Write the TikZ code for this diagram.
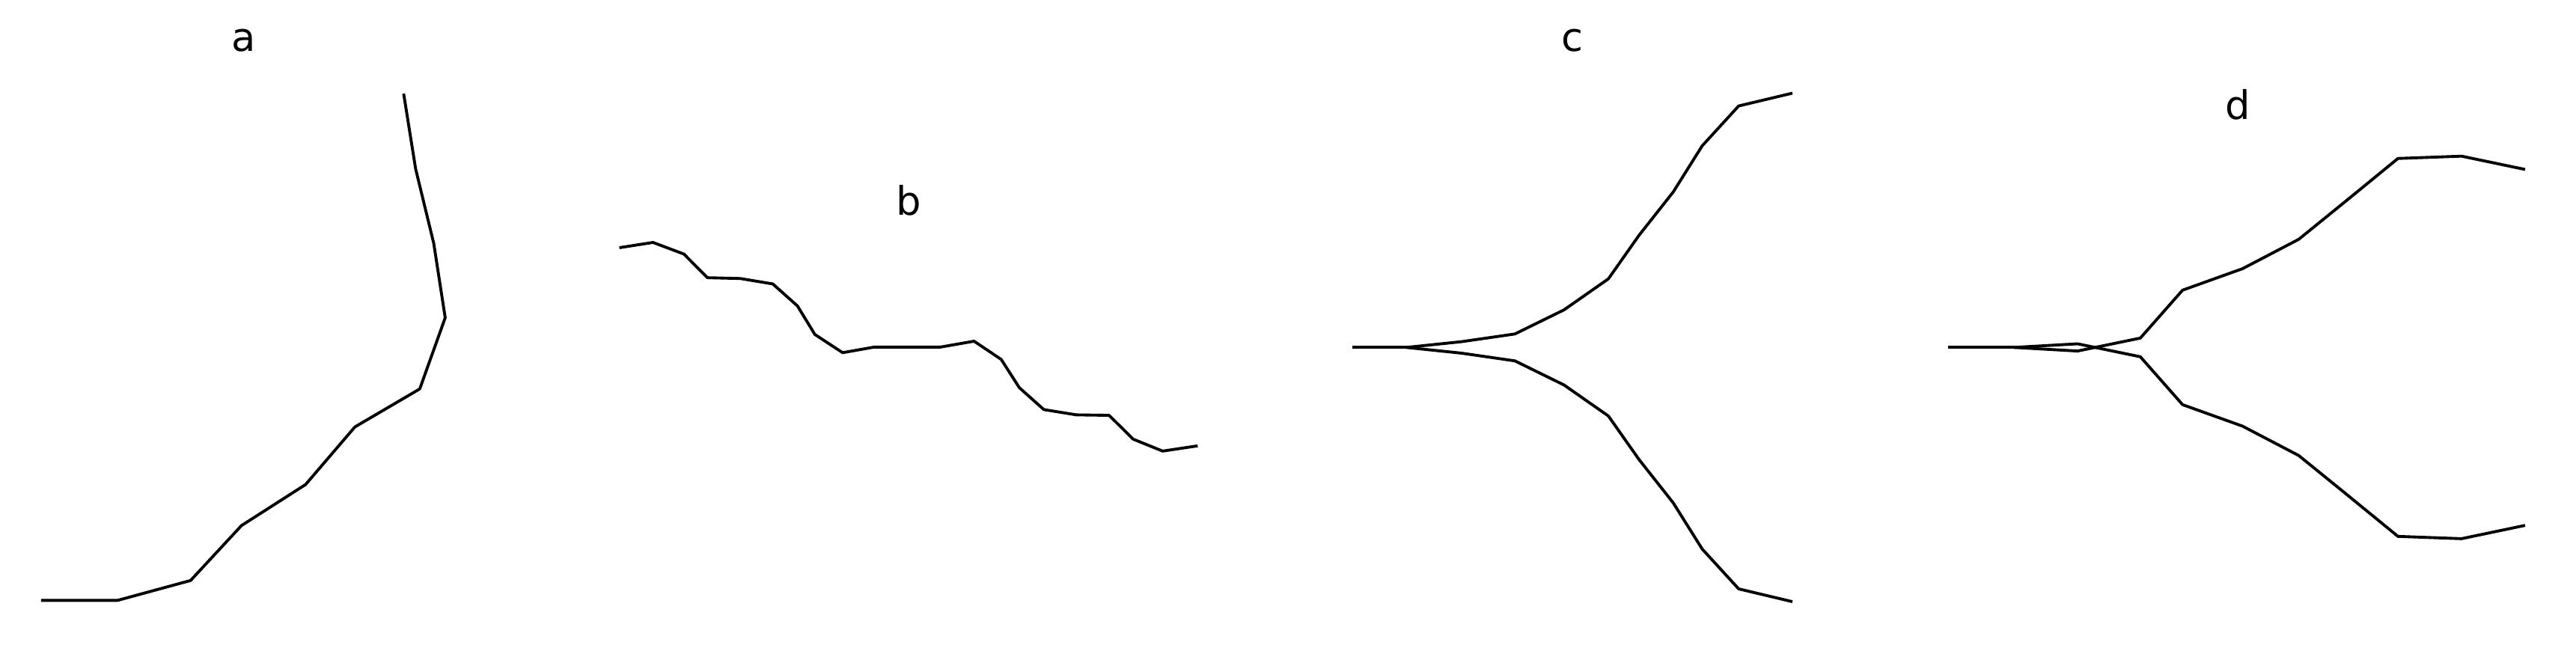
\documentclass[tikz,border=0pt]{standalone}
\usepackage{fontspec}
\setmainfont{DejaVu Sans}
\begin{document}
\begin{tikzpicture}[x=0.021952cm,y=-0.021924cm,
  curve/.style={line width=1.1pt,line join=round,black},
  lbl/.style={inner sep=0pt,font=\fontsize{15}{17}\selectfont}]
\useasboundingbox (0,0) rectangle (1568,395);
% labels
\node[lbl] (la) at (148.3,24.7) {a};
\node[lbl] (lb) at (553,122) {b};
\node[lbl] (lc) at (957.3,24.7) {c};
\node[lbl] (ld) at (1362,63.9) {d};
% panel a
\draw[curve] (25,366) -- (71.6,366) -- (116,353.9) -- (147,320.4) -- (186,295.4) -- (216,260.3) -- (255.5,237.1) -- (271,193.7) -- (264,148.3) -- (253,103) -- (245.7,57.1);
% panel b
\draw[curve] (377,151) -- (397.5,147.8) -- (416.3,154.9) -- (430.6,169.3) -- (450.6,169.8) -- (470.4,173.1) -- (485.4,186.5) -- (496,203.9) -- (512.9,215) -- (532.1,211.6) -- (572.4,211.6) -- (592.9,208) -- (609.4,219.1) -- (620.5,236.4) -- (635.4,249.7) -- (655.1,252.9) -- (675.1,253.2) -- (689.7,267.7) -- (707.7,275) -- (729,271.8);
% panel c
\coordinate (cj) at (856,211.8);
\draw[curve] (823,211.8) -- (cj);
\draw[curve] (cj) -- (889.6,208.3) -- (922.1,203.6) -- (952,188.9) -- (979,170.0) -- (997.7,143.4) -- (1018.5,117.0) -- (1036.1,88.9) -- (1058.3,64.6) -- (1091,56.8);
\draw[curve] (cj) -- (889.6,215.3) -- (922.1,220.0) -- (952,234.7) -- (979,253.6) -- (997.7,280.2) -- (1018.5,306.6) -- (1036.1,334.7) -- (1058.3,359.0) -- (1091,366.8);
% panel d
\coordinate (dj) at (1225.9,211.8);
\draw[curve] (1186,211.8) -- (dj);
\draw[curve] (dj) -- (1264.6,209.6) -- (1302.8,217.5) -- (1328.5,246.7) -- (1365,259.8) -- (1399.2,277.7) -- (1429.1,302.0) -- (1459.6,327.0) -- (1498.3,328.4) -- (1537,320.3);
\draw[curve] (dj) -- (1264.6,214.0) -- (1302.8,206.1) -- (1328.5,176.9) -- (1365,163.8) -- (1399.2,145.9) -- (1429.1,121.6) -- (1459.6,96.6) -- (1498.3,95.2) -- (1537,103.3);
\end{tikzpicture}
\end{document}
